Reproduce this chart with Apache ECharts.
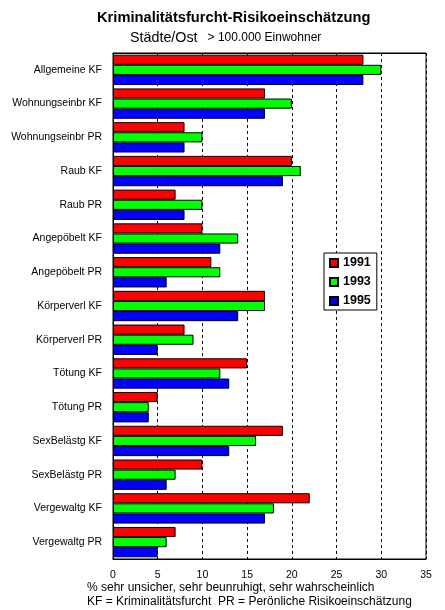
<!DOCTYPE html>
<html>
<head>
<meta charset="utf-8">
<script src="https://cdn.jsdelivr.net/npm/echarts@6/dist/echarts.min.js"></script>
<style>
html,body{margin:0;padding:0;background:#fff;}
#chart{width:445px;height:610px;}
</style>
</head>
<body>
<div id="chart"></div>
<script>
const categories = ["Allgemeine KF","Wohnungseinbr KF","Wohnungseinbr PR","Raub KF","Raub PR","Angepöbelt KF","Angepöbelt PR","Körperverl KF","Körperverl PR","Tötung KF","Tötung PR","SexBelästg KF","SexBelästg PR","Vergewaltg KF","Vergewaltg PR"];
const values1991 = [28,17,8,20,7,10,11,17,8,15,5,19,10,22,7];
const values1993 = [30,20,10,21,10,14,12,17,9,12,4,16,7,18,6];
const values1995 = [28,17,8,19,8,12,6,14,5,13,4,13,6,17,5];
const xTicks = {min:0, max:35, interval:5};

const FONT = '"Liberation Sans", Arial, sans-serif';
const chart = echarts.init(document.getElementById('chart'), null, {renderer:'canvas'});
function series(name, data, color){
  return {
    name, type:'bar', data,
    barGap:'0%', barCategoryGap:'10%',
    itemStyle:{color, borderColor:'#000', borderWidth:1},
    emphasis:{disabled:true},
    animation:false
  };
}
chart.setOption({
  animation:false,
  backgroundColor:'#fff',
  title:[
    {text:'Kriminalitätsfurcht-Risikoeinschätzung', left:97, top:10, padding:0, textStyle:{fontFamily:FONT,fontSize:14.7,fontWeight:'bold',color:'#000'}},
    {text:'{a|Städte/Ost}  {b|> 100.000 Einwohner}', left:130, top:29, padding:0, textStyle:{fontWeight:'normal',rich:{a:{fontFamily:FONT,fontSize:14.3,fontWeight:'normal',color:'#000'},b:{fontFamily:FONT,fontSize:12,fontWeight:'normal',color:'#000'}}}},
    {text:'% sehr unsicher, sehr beunruhigt, sehr wahrscheinlich', left:87, top:582, padding:0, textStyle:{fontFamily:FONT,fontSize:12,fontWeight:'normal',color:'#000'}},
    {text:'KF = Kriminalitätsfurcht  PR = Perönliche Risikoeinschätzung', left:87, top:596, padding:0, textStyle:{fontFamily:FONT,fontSize:12,fontWeight:'normal',color:'#000'}}
  ],
  legend:{
    orient:'vertical', left:324, top:253,
    backgroundColor:'#fff', borderColor:'#000', borderWidth:1,
    padding:[3,6,2,5], itemGap:5, itemWidth:8, itemHeight:8,
    icon:'rect',
    textStyle:{fontFamily:FONT,fontSize:12.5,fontWeight:'bold',color:'#000',lineHeight:14},
    data:['1991','1993','1995'],
    selectedMode:false
  },
  grid:{left:113, right:19, top:53, bottom:51, show:true, borderColor:'#000', borderWidth:1, backgroundColor:'transparent'},
  xAxis:[{
    type:'value', min:xTicks.min, max:xTicks.max, interval:xTicks.interval, position:'bottom',
    axisLine:{show:true, lineStyle:{color:'#000'}},
    axisTick:{show:false},
    axisLabel:{fontFamily:FONT,fontSize:10.5,color:'#000',margin:11},
    splitLine:{show:true, lineStyle:{color:'#000', type:[3,3], width:1}}
  },{
    type:'value', min:xTicks.min, max:xTicks.max, interval:xTicks.interval, position:'top',
    axisLine:{show:true, lineStyle:{color:'#000'}},
    axisTick:{show:true, inside:true, length:3, lineStyle:{color:'#000'}},
    axisLabel:{show:false},
    splitLine:{show:false}
  }],
  yAxis:{
    type:'category', data:categories, inverse:true,
    axisLine:{show:true, lineStyle:{color:'#000'}},
    axisTick:{show:false},
    axisLabel:{fontFamily:FONT,fontSize:10.5,color:'#000',margin:11}
  },
  series:[
    series('1991', values1991, '#ff0000'),
    series('1993', values1993, '#00ff00'),
    series('1995', values1995, '#0000ff')
  ]
});
</script>
</body>
</html>
